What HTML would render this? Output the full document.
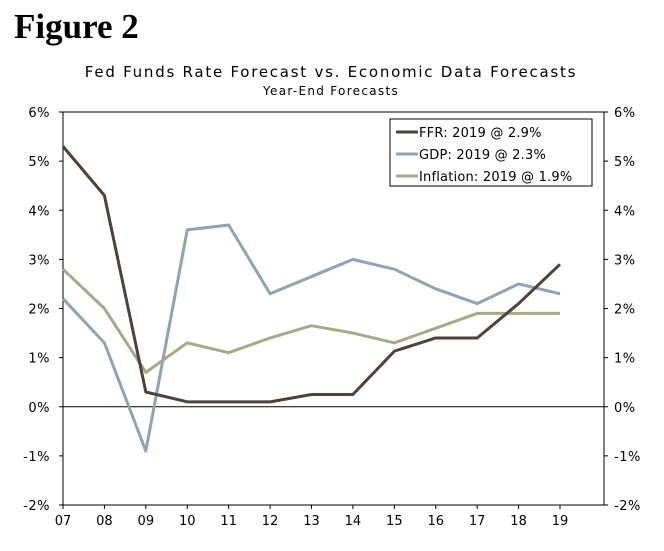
<!DOCTYPE html>
<html><head><meta charset="utf-8"><style>
body{margin:0;background:#fff;width:664px;height:546px;overflow:hidden}
text{font-family:"DejaVu Sans",Verdana,sans-serif}
</style></head><body>
<svg id="c" width="664" height="546">
<text x="14" y="38" style="font-family:'Liberation Serif',serif" font-size="35" font-weight="bold">Figure 2</text>
<text x="331" y="77" text-anchor="middle" font-size="15" letter-spacing="1.75">Fed Funds Rate Forecast vs. Economic Data Forecasts</text>
<text x="331" y="95" text-anchor="middle" font-size="12" letter-spacing="1.3">Year-End Forecasts</text>
<g id="axes"></g><g id="lines"></g>
<g>
<rect x="390" y="119" width="202" height="67" fill="#fff" stroke="#000" stroke-width="1"/>
<line x1="396" y1="132" x2="418" y2="132" stroke="#4f4236" stroke-width="3"/>
<text x="419" y="137" font-size="13" letter-spacing="0.2">FFR: 2019 @ 2.9%</text>
<line x1="396" y1="154" x2="418" y2="154" stroke="#8fa3b1" stroke-width="3"/>
<text x="419" y="159" font-size="13" letter-spacing="0.2">GDP: 2019 @ 2.3%</text>
<line x1="396" y1="176" x2="418" y2="176" stroke="#a9a98a" stroke-width="3"/>
<text x="419" y="181" font-size="13" letter-spacing="0.2">Inflation: 2019 @ 1.9%</text>
</g>
</svg>
<script>
const years=["07","08","09","10","11","12","13","14","15","16","17","18","19"];
const ffr=[5.3,4.3,0.3,0.1,0.1,0.1,0.25,0.25,1.13,1.4,1.4,2.1,2.9];
const gdp=[2.2,1.3,-0.9,3.6,3.7,2.3,2.65,3.0,2.8,2.4,2.1,2.5,2.3];
const infl=[2.8,2.0,0.7,1.3,1.1,1.4,1.65,1.5,1.3,1.6,1.9,1.9,1.9];
const yTicks=[-2,-1,0,1,2,3,4,5,6];
const NS="http://www.w3.org/2000/svg";
const L=63,R=604,T=112,B=505;
const xs=i=>L+i*(560-L)/12;
const ys=v=>B-(v+2)*(B-T)/8;
function mk(t,a,p){const e=document.createElementNS(NS,t);for(const k in a)e.setAttribute(k,a[k]);p.appendChild(e);return e;}
const ax=document.getElementById('axes');
mk('rect',{x:L,y:T,width:R-L,height:B-T,fill:'none',stroke:'#000','stroke-width':1},ax);
const zl=mk('line',{x1:L,x2:R,y1:ys(0),y2:ys(0),stroke:'#000'},ax);


yTicks.forEach(v=>{
 const y=ys(v);
 mk('line',{x1:L-4,x2:L,y1:y,y2:y,stroke:'#000'},ax);
 mk('line',{x1:R,x2:R+4,y1:y,y2:y,stroke:'#000'},ax);
 const t1=mk('text',{x:L-13,y:y+5,'text-anchor':'end','font-size':13,'letter-spacing':0.5},ax);t1.textContent=v+'%';
 
 
 const t2=mk('text',{x:R+10,y:y+5,'font-size':13,'letter-spacing':0.5},ax);t2.textContent=v+'%';
 
 
});
years.forEach((yr,i)=>{
 const x=xs(i);
 mk('line',{x1:x,x2:x,y1:B,y2:B+4,stroke:'#000'},ax);
 const t=mk('text',{x:x,y:B+20,'text-anchor':'middle','font-size':13},ax);t.textContent=yr;
 
 
});
const lg=document.getElementById('lines');
[[gdp,'#8fa3b1','gdp-line'],[infl,'#a9a98a','inflation-line'],[ffr,'#4f4236','ffr-line']].forEach(([d,c,n])=>{
 const p=mk('polyline',{points:d.map((v,i)=>xs(i)+','+ys(v)).join(' '),fill:'none',stroke:c,'stroke-width':3,'stroke-linejoin':'round'},lg);
 
 
});
</script>
</body></html>
